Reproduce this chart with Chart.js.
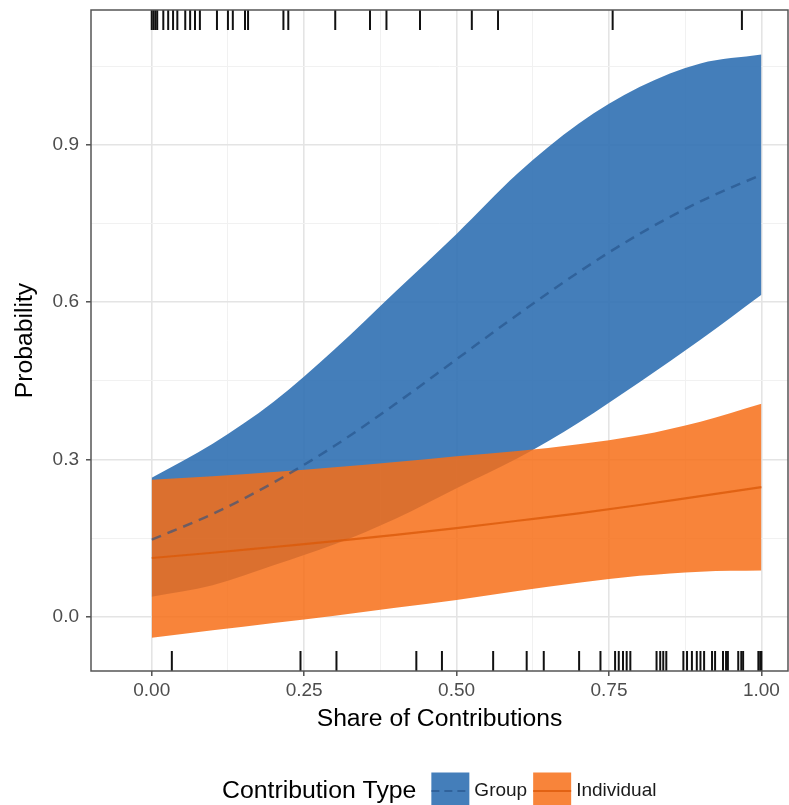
<!DOCTYPE html>
<html>
<head>
<meta charset="utf-8">
<script src="https://cdn.jsdelivr.net/npm/chart.js@4"></script>
<style>
  html, body { margin: 0; padding: 0; background: #ffffff; }
</style>
</head>
<body>
<canvas id="myChart" width="789" height="805"></canvas>
<script>
// share of contributions where the fitted curves were read
const share = [0, 0.1, 0.2, 0.3, 0.4, 0.5, 0.6, 0.7, 0.8, 0.9, 1.0];

// Group: fitted probability and its band
const groupFit = [0.147, 0.196, 0.256, 0.326, 0.406, 0.491, 0.576, 0.657, 0.730, 0.792, 0.843];
const groupLow = [0.038, 0.060, 0.098, 0.138, 0.187, 0.245, 0.302, 0.370, 0.447, 0.528, 0.614];
const groupHigh = [0.265, 0.330, 0.410, 0.510, 0.620, 0.730, 0.845, 0.940, 1.010, 1.055, 1.072];

// Individual: fitted probability and its band
const indivFit = [0.112, 0.122, 0.133, 0.144, 0.156, 0.169, 0.183, 0.197, 0.213, 0.230, 0.247];
const indivLow = [-0.040, -0.026, -0.012, 0.002, 0.017, 0.032, 0.049, 0.065, 0.078, 0.086, 0.088];
const indivHigh = [0.261, 0.268, 0.276, 0.285, 0.295, 0.306, 0.316, 0.329, 0.346, 0.372, 0.406];

// observations shown as rug marks (top = 1, bottom = 0)
const rugTop = [0.000, 0.003, 0.006, 0.009, 0.019, 0.027, 0.035, 0.042, 0.055, 0.063, 0.071, 0.079,
  0.107, 0.125, 0.133, 0.153, 0.158, 0.216, 0.224, 0.301, 0.358, 0.385, 0.440, 0.525, 0.568, 0.756, 0.968];
const rugBottom = [0.033, 0.244, 0.303, 0.434, 0.476, 0.560, 0.615, 0.643, 0.701, 0.736,
  0.760, 0.766, 0.773, 0.779, 0.785, 0.828, 0.834, 0.839, 0.844,
  0.872, 0.878, 0.886, 0.894, 0.900, 0.906, 0.919, 0.924, 0.937, 0.942, 0.945,
  0.962, 0.967, 0.970, 0.995, 0.998, 1.000];

// axes
const xMajor = [0, 0.25, 0.5, 0.75, 1];
const xMinor = [0.125, 0.375, 0.625, 0.875];
const xLabels = ["0.00", "0.25", "0.50", "0.75", "1.00"];
const yMajor = [0, 0.3, 0.6, 0.9];
const yMinor = [0.15, 0.45, 0.75, 1.05];
const yLabels = ["0.0", "0.3", "0.6", "0.9"];

const legendTitle = "Contribution Type";
const legendNames = ["Group", "Individual"];

const FONT = "'Liberation Sans', Arial, Helvetica, sans-serif";
const blueFill = "rgba(48, 112, 178, 0.9)";
const orangeFill = "rgba(247, 111, 23, 0.85)";
const blueLine = "rgba(35, 80, 135, 0.6)";
const orangeLine = "rgba(220, 90, 10, 0.8)";

const toPoints = (ys) => share.map((x, i) => ({ x: x, y: ys[i] }));

const bandSet = (ys, order, fill, color) => ({
  data: toPoints(ys),
  order: order,
  fill: fill,
  backgroundColor: color,
  borderWidth: 0,
  pointRadius: 0,
  cubicInterpolationMode: "monotone",
});

const datasets = [
  bandSet(groupLow, 2, false, blueFill),
  bandSet(groupHigh, 2, { target: 0 }, blueFill),
  bandSet(indivLow, 1, false, orangeFill),
  bandSet(indivHigh, 1, { target: 2 }, orangeFill),
  {
    data: toPoints(groupFit),
    order: 0,
    borderColor: blueLine,
    borderWidth: 2.5,
    borderDash: [10, 7],
    pointRadius: 0,
    fill: false,
    cubicInterpolationMode: "monotone",
  },
  {
    data: toPoints(indivFit),
    order: 0,
    borderColor: orangeLine,
    borderWidth: 2.2,
    pointRadius: 0,
    fill: false,
    cubicInterpolationMode: "monotone",
  },
];

const setTicks = (major, minor) => (scale) => {
  scale.ticks = major.concat(minor).sort((a, b) => a - b).map((v) => ({ value: v }));
};

const gridOptions = (major) => ({
  color: (c) => (major.includes(c.tick.value) ? "#e4e4e4" : "#f1f1f1"),
  lineWidth: (c) => (major.includes(c.tick.value) ? 1.6 : 1),
  tickColor: (c) => (major.includes(c.tick.value) ? "#444444" : "rgba(0,0,0,0)"),
  tickWidth: 1.4,
  tickLength: 5,
});

// panel frame and rug marks
const panelExtras = {
  id: "panelExtras",
  afterDatasetsDraw(chart) {
    const { ctx, chartArea, scales } = chart;
    const rugLen = 20;
    ctx.save();
    ctx.strokeStyle = "#111111";
    ctx.lineWidth = 2;
    rugTop.forEach((v) => {
      const px = scales.x.getPixelForValue(v);
      ctx.beginPath();
      ctx.moveTo(px, chartArea.top);
      ctx.lineTo(px, chartArea.top + rugLen);
      ctx.stroke();
    });
    rugBottom.forEach((v) => {
      const px = scales.x.getPixelForValue(v);
      ctx.beginPath();
      ctx.moveTo(px, chartArea.bottom - rugLen);
      ctx.lineTo(px, chartArea.bottom);
      ctx.stroke();
    });
    ctx.strokeStyle = "#555555";
    ctx.lineWidth = 1.5;
    ctx.strokeRect(chartArea.left, chartArea.top, chartArea.right - chartArea.left, chartArea.bottom - chartArea.top);
    ctx.restore();
  },
};

// legend in the ggplot style: title then keys on one row
const bottomLegend = {
  id: "bottomLegend",
  afterDraw(chart) {
    const ctx = chart.ctx;
    const cy = chart.height - 14;
    const keyW = 38;
    const keyH = 37;
    let x = 222;
    ctx.save();
    ctx.textBaseline = "middle";
    ctx.fillStyle = "#000000";
    ctx.font = "24.8px " + FONT;
    ctx.fillText(legendTitle, x, cy);
    x += ctx.measureText(legendTitle).width + 15;

    const keys = [
      { fill: blueFill, line: blueLine, dash: [8, 5] },
      { fill: orangeFill, line: orangeLine, dash: [] },
    ];
    ctx.font = "19px " + FONT;
    keys.forEach((k, i) => {
      ctx.fillStyle = "#ffffff";
      ctx.fillRect(x, cy - keyH / 2, keyW, keyH);
      ctx.fillStyle = k.fill;
      ctx.fillRect(x, cy - keyH / 2, keyW, keyH);
      ctx.strokeStyle = k.line;
      ctx.lineWidth = 2.2;
      ctx.setLineDash(k.dash);
      ctx.beginPath();
      ctx.moveTo(x, cy);
      ctx.lineTo(x + keyW, cy);
      ctx.stroke();
      ctx.setLineDash([]);
      x += keyW + 5;
      ctx.fillStyle = "#1a1a1a";
      ctx.fillText(legendNames[i], x, cy);
      x += ctx.measureText(legendNames[i]).width + 6;
    });
    ctx.restore();
  },
};

const config = {
  type: "line",
  data: { datasets },
  options: {
    responsive: false,
    devicePixelRatio: 1,
    animation: false,
    layout: { padding: { left: 0, right: 1, top: 10, bottom: 71 } },
    plugins: {
      legend: { display: false },
      tooltip: { enabled: false },
    },
    scales: {
      x: {
        type: "linear",
        min: -0.0996,
        max: 1.0436,
        afterBuildTicks: setTicks(xMajor, xMinor),
        afterFit: (scale) => {
          scale.height = 63;
          scale.paddingLeft = 0;
          scale.paddingRight = 0;
        },
        grid: gridOptions(xMajor),
        border: { display: false },
        ticks: {
          autoSkip: false,
          maxRotation: 0,
          padding: 3,
          color: "#4d4d4d",
          font: { family: FONT, size: 19 },
          callback: (v) => {
            const i = xMajor.indexOf(v);
            return i >= 0 ? xLabels[i] : "";
          },
        },
        title: {
          display: true,
          text: "Share of Contributions",
          color: "#000000",
          padding: { top: 0, bottom: 0 },
          font: { family: FONT, size: 24.7 },
        },
      },
      y: {
        type: "linear",
        min: -0.1035,
        max: 1.157,
        afterBuildTicks: setTicks(yMajor, yMinor),
        afterFit: (scale) => {
          scale.width = 91;
          scale.paddingTop = 0;
          scale.paddingBottom = 0;
        },
        grid: gridOptions(yMajor),
        border: { display: false },
        ticks: {
          autoSkip: false,
          padding: 7,
          color: "#4d4d4d",
          font: { family: FONT, size: 19 },
          callback: (v) => {
            const i = yMajor.indexOf(v);
            return i >= 0 ? yLabels[i] : "";
          },
        },
        title: {
          display: true,
          text: "Probability",
          color: "#000000",
          padding: { top: 10, bottom: 0 },
          font: { family: FONT, size: 24.7 },
        },
      },
    },
  },
  plugins: [panelExtras, bottomLegend],
};

const myChart = new Chart(document.querySelector("#myChart"), config);
</script>
</body>
</html>
